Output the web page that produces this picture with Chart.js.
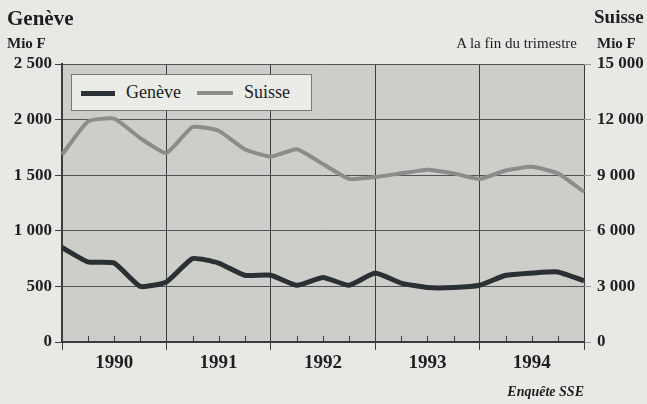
<!DOCTYPE html>
<html>
<head>
<meta charset="utf-8">
<script src="https://cdn.jsdelivr.net/npm/chart.js@4.4.1/dist/chart.umd.min.js"></script>
<style>
  body { margin: 0; background: #e8e8e4; font-family: "Liberation Serif", serif; color: #1d1f22; }
  #wrap { position: relative; width: 647px; height: 404px; overflow: hidden; }
  .lbl { position: absolute; white-space: nowrap; }
  #legend { position: absolute; left: 71px; top: 74px; width: 239px; height: 35px; background: #ebebe8; border: 1px solid #77787a; }
  #legend .mk { position: absolute; height: 5px; top: 16px; }
  #legend .tx { position: absolute; top: 7px; font-size: 18px; }
</style>
</head>
<body>
<div id="wrap">
  <canvas id="c" width="647" height="404"></canvas>
  <div class="lbl" style="left:7px;top:6px;font-size:21px;font-weight:bold;">Genève</div>
  <div class="lbl" style="left:7px;top:35px;font-size:15px;font-weight:bold;">Mio F</div>
  <div class="lbl" style="left:594px;top:6px;font-size:19px;font-weight:bold;">Suisse</div>
  <div class="lbl" style="left:597px;top:35px;font-size:15px;font-weight:bold;">Mio F</div>
  <div class="lbl" style="right:70px;top:35px;font-size:15px;">A la fin du trimestre</div>
  <div class="lbl" style="right:63px;top:384px;font-size:14px;font-weight:bold;font-style:italic;">Enquête SSE</div>
  <div id="legend">
    <div class="mk" style="left:9px;width:34px;background:#2b3035;"></div>
    <div class="tx" style="left:54px;">Genève</div>
    <div class="mk" style="left:125px;width:36px;background:#8c8c8a;height:4px;"></div>
    <div class="tx" style="left:172px;">Suisse</div>
  </div>
</div>
<script>
// quarters, end of quarter (first point = end of 1989)
const quarters = ['IV 1989',
  'I 1990', 'II 1990', 'III 1990', 'IV 1990',
  'I 1991', 'II 1991', 'III 1991', 'IV 1991',
  'I 1992', 'II 1992', 'III 1992', 'IV 1992',
  'I 1993', 'II 1993', 'III 1993', 'IV 1993',
  'I 1994', 'II 1994', 'III 1994', 'IV 1994'];
const yearLabels = ['1990', '1991', '1992', '1993', '1994'];

// Mio F
const geneve = [850, 720, 710, 500, 540, 750, 710, 600, 600, 510, 580, 510, 620, 530, 490, 490, 510, 600, 620, 630, 550];
const suisse = [10100, 11900, 12050, 11000, 10200, 11600, 11400, 10400, 10000, 10400, 9600, 8800, 8900, 9100, 9300, 9100, 8800, 9250, 9450, 9100, 8100];

const leftTicks = [0, 500, 1000, 1500, 2000, 2500];
const rightTicks = [0, 3000, 6000, 9000, 12000, 15000];

const fmt = v => String(v).replace(/\B(?=(\d{3})+(?!\d))/g, ' ');
const dark = '#3a3c3f';
const tickFont = { family: 'Liberation Serif', size: 17, weight: 'bold' };

const plotBg = {
  id: 'plotBg',
  beforeDraw(chart) {
    const { ctx, chartArea: a } = chart;
    ctx.save();
    ctx.fillStyle = '#cdcdc9';
    ctx.fillRect(a.left, a.top, a.right - a.left, a.bottom - a.top);
    ctx.restore();
  }
};

// small quarter ticks standing up from the bottom axis
const innerTicks = {
  id: 'innerTicks',
  beforeDatasetsDraw(chart) {
    const { ctx, chartArea: a, scales } = chart;
    ctx.save();
    ctx.strokeStyle = dark;
    ctx.lineWidth = 1;
    quarters.forEach((q, i) => {
      if (i % 4 === 0) return;
      const x = Math.round(scales.x.getPixelForValue(i)) + 0.5;
      ctx.beginPath();
      ctx.moveTo(x, a.bottom);
      ctx.lineTo(x, a.bottom - 6);
      ctx.stroke();
    });
    ctx.restore();
  }
};

new Chart(document.getElementById('c'), {
  type: 'line',
  data: {
    labels: quarters,
    datasets: [
      { label: 'Genève', data: geneve, yAxisID: 'y', borderColor: '#2b3035', borderWidth: 5, pointRadius: 0, tension: 0.15, borderJoinStyle: 'round' },
      { label: 'Suisse', data: suisse, yAxisID: 'y2', borderColor: '#8c8c8a', borderWidth: 4, pointRadius: 0, tension: 0.15, borderJoinStyle: 'round' }
    ]
  },
  options: {
    responsive: false,
    animation: false,
    layout: { padding: { top: 64, left: 0, right: 0, bottom: 0 } },
    plugins: { legend: { display: false }, tooltip: { enabled: false } },
    scales: {
      x: {
        type: 'category',
        offset: false,
        afterFit(s) { s.height = 62; },
        border: { display: true, color: dark, width: 2 },
        grid: {
          offset: false,
          color: c => (c.index % 4 === 0 ? dark : 'rgba(0,0,0,0)'),
          tickColor: c => (c.index % 4 === 0 ? dark : 'rgba(0,0,0,0)'),
          tickLength: 8,
          lineWidth: 1
        },
        ticks: {
          autoSkip: false,
          maxRotation: 0,
          padding: 2,
          color: '#1d1f22',
          font: { family: 'Liberation Serif', size: 19, weight: 'bold' },
          callback: (v, i) => (i % 4 === 2 ? yearLabels[(i - 2) / 4] : '')
        }
      },
      y: {
        position: 'left',
        min: 0, max: 2500,
        afterFit(s) { s.width = 62; },
        afterBuildTicks(s) { s.ticks = leftTicks.map(v => ({ value: v })); },
        border: { display: true, color: dark, width: 2 },
        grid: { color: '#505255', lineWidth: 1, tickLength: 7, tickColor: dark },
        ticks: { padding: 3, color: '#1d1f22', font: tickFont, callback: v => fmt(v) }
      },
      y2: {
        position: 'right',
        min: 0, max: 15000,
        afterFit(s) { s.width = 63; },
        afterBuildTicks(s) { s.ticks = rightTicks.map(v => ({ value: v })); },
        border: { display: false },
        grid: { drawOnChartArea: false, tickLength: 7, tickColor: '#9a9a98', lineWidth: 1 },
        ticks: { padding: 6, color: '#1d1f22', font: tickFont, callback: v => fmt(v) }
      }
    }
  },
  plugins: [plotBg, innerTicks]
});
</script>
</body>
</html>
